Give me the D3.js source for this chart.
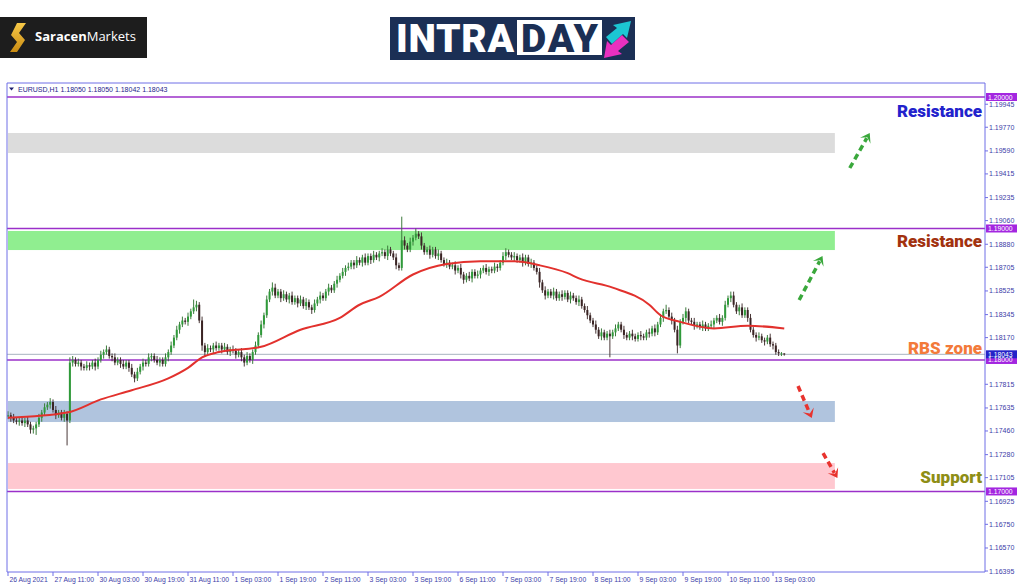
<!DOCTYPE html>
<html>
<head>
<meta charset="utf-8">
<script src="https://cdn.jsdelivr.net/npm/d3@7"></script>
<style>
body{margin:0;background:#fff}
svg{display:block}
</style>
</head>
<body>
<div id="wrapper"></div>
<script>
// EURUSD H1 closes (first bar = 26 Aug 19:00)
const closes = [
1.1758,1.1756,1.1754,1.1753,1.1754,1.1752,1.1754,1.1751,1.1747,1.1748,
1.1751,1.1756,1.1760,1.1764,1.1766,1.1768,1.1762,1.1758,1.1760,1.1756,
1.1759,1.1754,1.1798,1.1800,1.1797,1.1798,1.1795,1.1794,1.1796,1.1795,
1.1798,1.1795,1.1800,1.1804,1.1806,1.1808,1.1803,1.1802,1.1798,1.1800,
1.1797,1.1795,1.1798,1.1794,1.1789,1.1786,1.1791,1.1795,1.1798,1.1797,
1.1802,1.1803,1.1800,1.1798,1.1800,1.1797,1.1802,1.1806,1.1811,1.1817,
1.1823,1.1827,1.1830,1.1829,1.1833,1.1837,1.1840,1.1842,1.1830,1.1811,
1.1806,1.1809,1.1808,1.1811,1.1809,1.1811,1.1808,1.1810,1.1806,1.1808,
1.1807,1.1804,1.1806,1.1802,1.1798,1.1803,1.1800,1.1806,1.1811,1.1819,
1.1827,1.1834,1.1846,1.1852,1.1855,1.1849,1.1852,1.1847,1.1850,1.1846,
1.1849,1.1844,1.1847,1.1843,1.1846,1.1841,1.1844,1.1840,1.1838,1.1843,
1.1846,1.1849,1.1847,1.1852,1.1855,1.1853,1.1858,1.1861,1.1864,1.1867,
1.1870,1.1871,1.1874,1.1872,1.1876,1.1874,1.1878,1.1874,1.1879,1.1876,
1.1880,1.1878,1.1881,1.1882,1.1879,1.1884,1.1881,1.1878,1.1872,1.1870,
1.1891,1.1887,1.1884,1.1890,1.1893,1.1896,1.1894,1.1887,1.1882,1.1884,
1.1880,1.1884,1.1879,1.1881,1.1876,1.1873,1.1874,1.1871,1.1872,1.1868,
1.1870,1.1865,1.1861,1.1864,1.1862,1.1867,1.1864,1.1865,1.1868,1.1870,
1.1867,1.1869,1.1868,1.1871,1.1870,1.1874,1.1879,1.1882,1.1880,1.1878,
1.1879,1.1876,1.1878,1.1874,1.1878,1.1873,1.1874,1.1870,1.1867,1.1859,
1.1853,1.1849,1.1852,1.1849,1.1852,1.1847,1.1850,1.1848,1.1851,1.1846,
1.1849,1.1847,1.1844,1.1846,1.1841,1.1838,1.1834,1.1830,1.1827,1.1823,
1.1818,1.1821,1.1817,1.1820,1.1818,1.1821,1.1824,1.1827,1.1823,1.1819,
1.1817,1.1820,1.1818,1.1816,1.1819,1.1818,1.1817,1.1821,1.1820,1.1824,
1.1821,1.1827,1.1832,1.1837,1.1838,1.1833,1.1830,1.1823,1.1811,1.1829,
1.1832,1.1837,1.1830,1.1829,1.1826,1.1827,1.1825,1.1827,1.1824,1.1826,
1.1827,1.1830,1.1832,1.1829,1.1832,1.1842,1.1847,1.1849,1.1842,1.1837,
1.1840,1.1834,1.1838,1.1832,1.1823,1.1819,1.1817,1.1818,1.1815,1.1814,
1.1817,1.1812,1.1811,1.1806,1.1805,1.18050,1.18043
];
const firstOpen = 1.1757;

// wick lengths above / below the body, in pips
const wickHi = [
3,2,3,2,2,3,2,3,2,2, 2,3,2,3,2,3,2,3,2,2, 3,2,4,3,2,3,2,2,3,2, 2,3,2,3,2,3,2,2,3,2,
2,3,2,2,3,2,3,2,3,2, 3,2,2,3,2,2,3,2,3,2, 3,2,3,2,3,2,6,3,2,3, 2,3,2,2,3,2,2,3,2,2,
3,2,2,3,2,3,2,2,3,2, 3,2,3,2,4,3,2,2,3,2, 2,3,2,2,3,2,3,2,2,3, 2,3,2,2,3,2,2,3,2,3,
2,3,2,2,3,2,2,3,2,2, 3,2,2,3,2,3,2,2,3,2, 18,3,2,3,2,4,2,3,2,2, 3,2,2,3,2,2,3,2,2,3,
2,3,2,2,3,2,2,3,2,2, 3,2,2,3,2,2,3,3,2,2, 3,2,2,3,2,2,3,2,2,3, 2,3,2,2,3,2,2,3,2,2,
3,2,2,3,2,2,3,2,2,3, 2,3,2,2,3,2,3,2,2,3, 2,2,3,2,2,3,2,2,3,2, 3,2,3,2,4,2,3,2,3,2,
3,3,2,2,3,2,2,3,2,2, 3,2,2,3,2,3,2,3,3,2, 2,3,2,2,3,2,2,3,2,2, 2,3,2,2,2,1,0
];
const wickLo = [
2,3,2,2,3,2,3,2,3,3, 5,2,3,2,2,3,2,3,2,2, 3,19,2,3,2,2,3,2,2,3, 2,3,2,2,3,2,2,3,2,2,
3,2,2,3,2,3,2,2,3,2, 2,3,2,2,3,2,2,3,2,2, 2,3,2,2,3,2,2,3,2,4, 3,2,2,3,2,2,3,2,2,3,
2,3,2,3,3,2,2,3,2,2, 2,3,2,2,3,2,2,3,2,2, 3,2,2,3,2,2,3,2,3,2, 2,3,2,2,3,2,2,3,2,2,
3,2,2,3,2,2,3,2,2,3, 2,2,3,2,2,3,2,2,3,2, 2,3,2,2,3,2,2,3,2,2, 3,2,2,3,2,2,3,2,2,3,
2,3,3,2,2,3,2,2,3,2, 2,3,2,2,3,2,2,3,2,2, 3,2,2,3,2,2,3,2,2,4, 2,3,2,2,3,2,2,3,2,2,
3,2,2,3,2,2,3,2,2,3, 2,3,2,2,16,2,3,2,2,3, 2,2,3,2,2,3,2,2,3,2, 3,2,2,3,2,2,3,2,6,2,
2,3,2,2,3,2,2,3,2,2, 2,3,2,2,3,2,2,3,2,2, 3,2,2,3,2,2,3,2,2,3, 2,2,3,2,2,2,1
];

// moving average, read at a few bars
const maBars   = [0, 21, 33, 44, 57, 64, 69, 75, 90, 104, 118, 125, 132, 144, 156, 168, 180, 189, 199, 203, 215, 228, 232, 239, 251, 263, 276];
const maValues = [1.1756,1.1760,1.1770,1.1777,1.1786,1.1794,1.1802,1.1806,1.1810,1.1823,1.1832,1.1842,1.1848,1.1865,1.1873,1.1875,1.1875,1.1872,1.1866,1.1862,1.1855,1.1842,1.1834,1.1829,1.1824,1.1826,1.1824];

const levels = [1.20000, 1.19000, 1.18000, 1.17000];
const lastPrice = 1.18043;
const priceTicks = [1.19945,1.19770,1.19590,1.19415,1.19235,1.19060,1.18880,1.18705,1.18525,1.18345,1.18170,
  1.17815,1.17635,1.17460,1.17280,1.17105,1.16925,1.16750,1.16570,1.16395];
const timeLabels = ["26 Aug 2021","27 Aug 11:00","30 Aug 03:00","30 Aug 19:00","31 Aug 11:00","1 Sep 03:00",
  "1 Sep 19:00","2 Sep 11:00","3 Sep 03:00","3 Sep 19:00","6 Sep 11:00","7 Sep 03:00","7 Sep 19:00",
  "8 Sep 11:00","9 Sep 03:00","9 Sep 19:00","10 Sep 11:00","13 Sep 03:00"];
const barsPerLabel = 16;

// zones
const zoneTop    = [1.19726, 1.18981, 1.17688, 1.17216];
const zoneBottom = [1.19574, 1.18836, 1.17528, 1.17019];
const zoneEndBar = 294;

// annotation labels
const labelTexts  = ["Resistance", "Resistance", "RBS zone", "Support"];
const labelPrices = [1.19894, 1.18905, 1.18091, 1.17107];

// dashed arrows [bar, price] from -> to
const arrowFrom = [[299.3, 1.19460], [281.3, 1.18456], [280.9, 1.17802], [289.8, 1.17292]];
const arrowTo   = [[306.4, 1.19726], [289.6, 1.18791], [285.8, 1.17558], [294.9, 1.17102]];

const pip = 0.0001;
const width = 1024, height = 587;

const svg = d3.select("#wrapper").append("svg")
  .attr("width", width).attr("height", height)
  .style("font-family", "'Liberation Sans', Arial, sans-serif");

// ---- logos ----
const sar = svg.append("g");
sar.append("rect").attr("x", 0).attr("y", 17).attr("width", 147).attr("height", 41).attr("fill", "#1d1d1d");
const grad = svg.append("defs").append("linearGradient").attr("id", "gold")
  .attr("x1", 0).attr("y1", 0).attr("x2", 0).attr("y2", 1);
grad.append("stop").attr("offset", "0%").attr("stop-color", "#f7c948");
grad.append("stop").attr("offset", "100%").attr("stop-color", "#c98b12");
sar.append("path")
  .attr("d", "M17,23 L26,23 L19,33 L25,40 L17,52 L10,52 L17,42 L11,35 Z")
  .attr("fill", "url(#gold)");
const sarText = sar.append("text").attr("x", 35).attr("y", 41)
  .attr("fill", "#fff").style("font-family", "'Open Sans', sans-serif").style("font-size", "13px");
sarText.append("tspan").attr("font-weight", 700).text("Saracen");
sarText.append("tspan").attr("font-weight", 400).text("Markets");

const intra = svg.append("g");
intra.append("rect").attr("x", 390).attr("y", 17).attr("width", 245).attr("height", 43).attr("fill", "#1b2f55");
intra.append("rect").attr("x", 517).attr("y", 20).attr("width", 85).attr("height", 35).attr("fill", "#fff");
intra.append("text").attr("x", 396).attr("y", 52).attr("fill", "#fff")
  .style("font-family", "Roboto, sans-serif").style("font-weight", 900).style("font-size", "39px")
  .attr("textLength", 118).text("INTRA");
intra.append("text").attr("x", 521).attr("y", 52).attr("fill", "#1b2f55")
  .style("font-family", "Roboto, sans-serif").style("font-weight", 900).style("font-size", "39px")
  .attr("textLength", 77).text("DAY");
intra.append("path").attr("d", "M606,37 L617,28 L613,25 L631,21 L627,38 L623,34 L612,44 Z").attr("fill", "#1cc6d3");
intra.append("path").attr("d", "M629,42 L618,51 L622,54 L604,58 L607,41 L611,45 L622,35 Z").attr("fill", "#e930bf");

// ---- chart ----
const plotLeft = 7, plotRight = 985, plotTop = 83, plotBottom = 572;

const x = d3.scaleLinear().domain([0, 272]).range([8, 773]);
const y = d3.scaleLinear().domain([1.16395, 1.20000]).range([571, 97]);

const chart = svg.append("g");

// zones
chart.selectAll(".zone").data(zoneTop).enter().append("rect")
  .attr("x", plotLeft + 1)
  .attr("y", d => y(d))
  .attr("width", (d) => x(zoneEndBar) - plotLeft - 1)
  .attr("height", (d, i) => y(zoneBottom[i]) - y(d))
  .attr("fill", (d, i) => ["#dcdcdc", "#90ee90", "#b0c4de", "#ffc8d0"][i]);

// current price line
chart.append("line").attr("x1", plotLeft).attr("x2", plotRight)
  .attr("y1", y(lastPrice)).attr("y2", y(lastPrice))
  .attr("stroke", "#a8b4c0").attr("stroke-width", 1);

// level lines
chart.selectAll(".lvl").data(levels).enter().append("line")
  .attr("x1", plotLeft).attr("x2", plotRight)
  .attr("y1", d => y(d)).attr("y2", d => y(d))
  .attr("stroke", "#9b30c9").attr("stroke-width", 1.6);

// candles
const bars = closes.map((c, i) => {
  const o = i === 0 ? firstOpen : closes[i - 1];
  return {i, o, c, h: Math.max(o, c) + wickHi[i] * pip, l: Math.min(o, c) - wickLo[i] * pip};
});

const candles = chart.append("g");
candles.selectAll(".wick").data(bars).enter().append("line")
  .attr("x1", d => x(d.i)).attr("x2", d => x(d.i))
  .attr("y1", d => y(d.h)).attr("y2", d => y(d.l))
  .attr("stroke", d => d.c >= d.o ? "#3c7a3c" : "#4a3838").attr("stroke-width", 1);
candles.selectAll(".body").data(bars).enter().append("rect")
  .attr("x", d => x(d.i) - 1)
  .attr("y", d => y(Math.max(d.o, d.c)))
  .attr("width", 2)
  .attr("height", d => Math.max(1, y(Math.min(d.o, d.c)) - y(Math.max(d.o, d.c))))
  .attr("fill", d => d.c >= d.o ? "#2f9a3a" : "#3a2424");

// moving average
const maLine = d3.line()
  .x((d, i) => x(maBars[i]))
  .y(d => y(d))
  .curve(d3.curveMonotoneX);
chart.append("path").datum(maValues)
  .attr("d", maLine)
  .attr("fill", "none").attr("stroke", "#e2312d").attr("stroke-width", 2);

// frame
const axisCol = "#6f6fe6";
chart.append("line").attr("x1", plotLeft).attr("x2", plotLeft).attr("y1", plotTop).attr("y2", plotBottom).attr("stroke", axisCol);
chart.append("line").attr("x1", plotLeft).attr("x2", plotRight).attr("y1", plotTop).attr("y2", plotTop).attr("stroke", axisCol);
chart.append("line").attr("x1", plotRight).attr("x2", plotRight).attr("y1", plotTop).attr("y2", plotBottom).attr("stroke", axisCol);
chart.append("line").attr("x1", plotLeft).attr("x2", plotRight).attr("y1", plotBottom).attr("y2", plotBottom).attr("stroke", axisCol);

// header
chart.append("path").attr("d", "M9,87.5 L14,87.5 L11.5,90.5 Z").attr("fill", "#1e1e6e");
chart.append("text").attr("x", 18).attr("y", 91.5)
  .attr("fill", "#1e1e8a").style("font-size", "7px")
  .text("EURUSD,H1  1.18050 1.18050 1.18042 1.18043");

// price axis
const yAxis = chart.append("g");
yAxis.selectAll(".tk").data(priceTicks).enter().append("line")
  .attr("x1", plotRight).attr("x2", plotRight + 3)
  .attr("y1", d => y(d)).attr("y2", d => y(d))
  .attr("stroke", axisCol);
yAxis.selectAll(".tl").data(priceTicks).enter().append("text")
  .attr("x", plotRight + 4).attr("y", d => y(d))
  .attr("dominant-baseline", "central")
  .attr("fill", "#3c3ca8").style("font-size", "7px")
  .text(d => d.toFixed(5));

// price tags
const tags = levels.map(v => ({v, col: "#a326e0"})).concat([{v: lastPrice, col: "#2323c8"}]);
yAxis.selectAll(".tag").data(tags).enter().append("rect")
  .attr("x", plotRight + 1).attr("y", d => y(d.v) - 4).attr("width", 31).attr("height", 8)
  .attr("fill", d => d.col);
yAxis.selectAll(".tagt").data(tags).enter().append("text")
  .attr("x", plotRight + 3).attr("y", d => y(d.v))
  .attr("dominant-baseline", "central")
  .attr("fill", "#fff").style("font-size", "6.8px")
  .text(d => d.v.toFixed(5));

// time axis
const xAxis = chart.append("g");
xAxis.selectAll(".xt").data(timeLabels).enter().append("line")
  .attr("x1", (d, i) => x(i * barsPerLabel)).attr("x2", (d, i) => x(i * barsPerLabel))
  .attr("y1", plotBottom).attr("y2", plotBottom + 4)
  .attr("stroke", axisCol);
xAxis.selectAll(".xl").data(timeLabels).enter().append("text")
  .attr("x", (d, i) => x(i * barsPerLabel) + 1.5)
  .attr("y", plotBottom + 10)
  .attr("fill", "#3c3ca8").style("font-size", "6.8px")
  .text(d => d);

// annotation labels
chart.selectAll(".lab").data(labelTexts).enter().append("text")
  .attr("x", 982)
  .attr("y", (d, i) => y(labelPrices[i]))
  .attr("text-anchor", "end")
  .attr("dominant-baseline", "central")
  .attr("fill", (d, i) => ["#2222cc", "#a2320f", "#f37a3a", "#8e8e16"][i])
  .style("font-family", "Roboto, sans-serif").style("font-weight", 900).style("font-size", "17px")
  .text(d => d);

// dashed arrows
const arrowCols = ["#3aa83c", "#3aa83c", "#e8332e", "#e8332e"];
arrowFrom.forEach((f, k) => {
  const t = arrowTo[k];
  const x1 = x(f[0]), y1 = y(f[1]), x2 = x(t[0]), y2 = y(t[1]);
  const ang = Math.atan2(y2 - y1, x2 - x1);
  const hx = x2 - 6 * Math.cos(ang), hy = y2 - 6 * Math.sin(ang);
  chart.append("line")
    .attr("x1", x1).attr("y1", y1).attr("x2", hx).attr("y2", hy)
    .attr("stroke", arrowCols[k]).attr("stroke-width", 3.5)
    .attr("stroke-dasharray", "6,4");
  const s = 6, b = 9;
  const p1 = [x2, y2];
  const p2 = [x2 - b * Math.cos(ang) + s * Math.sin(ang), y2 - b * Math.sin(ang) - s * Math.cos(ang)];
  const p3 = [x2 - 0.55 * b * Math.cos(ang), y2 - 0.55 * b * Math.sin(ang)];
  const p4 = [x2 - b * Math.cos(ang) - s * Math.sin(ang), y2 - b * Math.sin(ang) + s * Math.cos(ang)];
  chart.append("path").attr("d", "M" + [p1, p2, p3, p4].join("L") + "Z").attr("fill", arrowCols[k]);
});
</script>
</body>
</html>
